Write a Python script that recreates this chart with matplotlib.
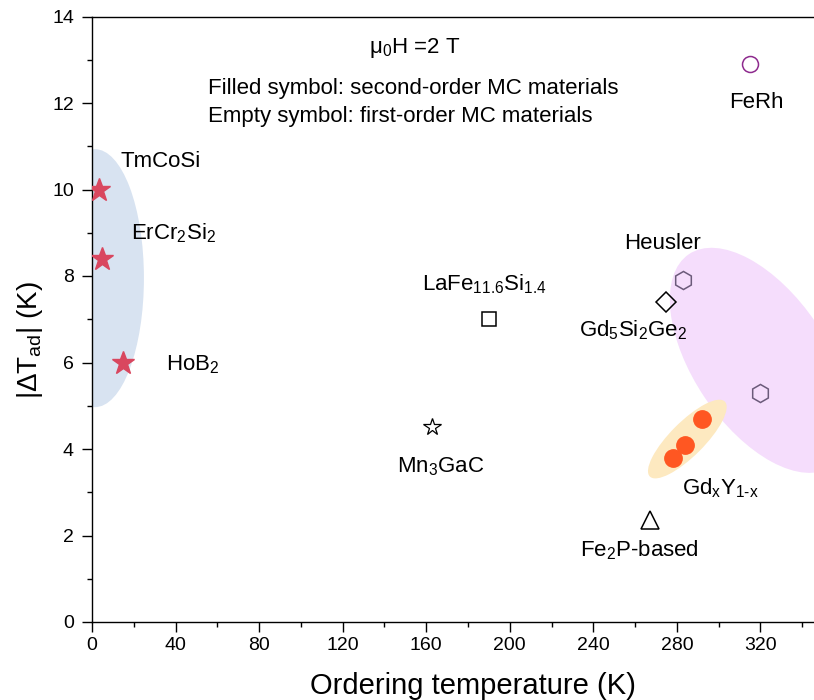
import matplotlib.pyplot as plt
from matplotlib.patches import Ellipse
from matplotlib import transforms

plt.rcParams['font.family'] = ['Liberation Sans', 'DejaVu Sans']
plt.rcParams['mathtext.fontset'] = 'custom'
plt.rcParams['mathtext.rm'] = 'Liberation Sans'

# second-order (filled) materials
stars_x = [3.5, 5, 15]
stars_y = [10.0, 8.4, 6.0]
gdy_x = [278, 284, 292]
gdy_y = [3.8, 4.1, 4.7]

# first-order (empty) materials
heusler_x = [283, 320]
heusler_y = [7.9, 5.3]
ferh = (315, 12.9)
lafe = (190, 7.0)
gdsige = (275, 7.4)
mn3gac = (163, 4.5)
fe2p = (267, 2.35)

labels = [
    ('TmCoSi', 33, 10.64),
    ('ErCr$_\\mathregular{2}$Si$_\\mathregular{2}$', 39, 9.0),
    ('HoB$_\\mathregular{2}$', 48, 5.95),
    ('FeRh', 318, 12.0),
    ('Heusler', 273, 8.76),
    ('LaFe$_\\mathregular{11.6}$Si$_\\mathregular{1.4}$', 188, 7.8),
    ('Gd$_\\mathregular{5}$Si$_\\mathregular{2}$Ge$_\\mathregular{2}$', 259, 6.75),
    ('Mn$_\\mathregular{3}$GaC', 167, 3.6),
    ('Gd$_\\mathregular{x}$Y$_\\mathregular{1\u2010x}$', 301, 3.1),
    ('Fe$_\\mathregular{2}$P-based', 262, 1.66),
]

fig = plt.figure(figsize=(8.14, 7), dpi=100)
ax = fig.add_axes([92 / 814, 78 / 700, 752 / 814, 605.5 / 700])


def shade(cx, cy, w_px, h_px, angle, color):
    # ellipse sized in pixels, centred on a data point
    tr = fig.dpi_scale_trans + transforms.ScaledTranslation(cx, cy, ax.transData)
    e = Ellipse((0, 0), w_px / 100, h_px / 100, angle=angle, transform=tr,
                facecolor=color, edgecolor='none', zorder=1)
    ax.add_patch(e)


shade(1.4, 7.95, 98, 258, 0, '#d8e3f1')
shade(320, 6.05, 256, 134, -56, '#f5ddfc')
shade(285, 4.23, 106, 34, 45, '#fde9c0')

ax.plot(stars_x, stars_y, '*', ms=17, color='#d9475f', mec='#d9475f', zorder=3)
ax.plot(gdy_x, gdy_y, 'o', ms=12.5, color='#ff5722', mec='#ff5722', zorder=3)
ax.plot(heusler_x, heusler_y, 'h', ms=13, mfc='none', mec='#6b5a7a', mew=1.1, zorder=3)
ax.plot(*ferh, 'o', ms=11.5, mfc='none', mec='#8e2a8e', mew=1.1, zorder=3)
ax.plot(*lafe, 's', ms=10.5, mfc='none', mec='black', mew=1.1, zorder=3)
ax.plot(*gdsige, 'D', ms=10, mfc='none', mec='black', mew=1.1, zorder=3)
ax.plot(*mn3gac, '*', ms=13, mfc='none', mec='black', mew=0.9, zorder=3)
ax.plot(*fe2p, '^', ms=13, mfc='none', mec='black', mew=1.1, zorder=3)

for txt, x, y in labels:
    ax.text(x, y, txt, fontsize=16, ha='center', va='center', zorder=4)

ax.text(154.5, 13.27, '\u03bc$_\\mathregular{0}$H =2 T', fontsize=16, ha='center', va='center')
ax.text(55.5, 12.33, 'Filled symbol: second-order MC materials', fontsize=16, va='center')
ax.text(55.5, 11.68, 'Empty symbol: first-order MC materials', fontsize=16, va='center')

ax.set_xlim(0, 360)
ax.set_ylim(0, 14)
ax.set_xticks(range(0, 321, 40))
ax.set_xticks(range(20, 341, 40), minor=True)
ax.set_yticks(range(0, 15, 2))
ax.set_yticks(range(1, 15, 2), minor=True)
ax.tick_params(which='major', direction='out', length=7, width=1, labelsize=14)
ax.tick_params(axis='y', which='major', pad=6)
ax.tick_params(which='minor', direction='out', length=3.5, width=1)
for s in ax.spines.values():
    s.set_linewidth(1)

ax.set_xlabel('Ordering temperature (K)', fontsize=21)
ax.set_ylabel('|\u0394T$_\\mathregular{ad}$| (K)', fontsize=20)
ax.xaxis.set_label_coords(0.507, -0.082)
ax.yaxis.set_label_coords(-0.062, 0.465)

fig.savefig('out.png', dpi=100)
